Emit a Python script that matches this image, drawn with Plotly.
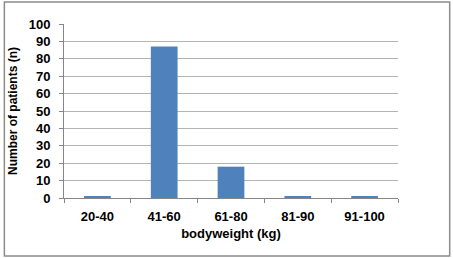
import plotly.graph_objects as go

categories = ["20-40", "41-60", "61-80", "81-90", "91-100"]
patients = [1, 87, 18, 1, 1]
y_ticks = [0, 10, 20, 30, 40, 50, 60, 70, 80, 90, 100]

W, H = 453, 258
L, R, T, B = 62, 55, 24, 60
pw, ph = W - L - R, H - T - B

fig = go.Figure(go.Bar(x=categories, y=patients, marker=dict(color="#4F81BD", line=dict(width=0)), width=0.4))

FF = "Liberation Sans, Arial, sans-serif"
fig.update_layout(
    width=W, height=H,
    margin=dict(l=L, r=R, t=T, b=B),
    paper_bgcolor="white", plot_bgcolor="white",
    showlegend=False,
    font=dict(family=FF, size=12, color="#000000"),
    xaxis=dict(
        showline=True, linecolor="#868686", linewidth=1,
        ticks="outside", ticklen=4, tickcolor="#868686", tickson="boundaries",
        tickfont=dict(family=FF, size=13, weight="bold"),
        ticklabelstandoff=6,
        title=dict(text="bodyweight (kg)", font=dict(family=FF, size=13, weight="bold"), standoff=6),
        showgrid=False,
    ),
    yaxis=dict(
        range=[0, 100], tickvals=y_ticks,
        showline=True, linecolor="#868686", linewidth=1,
        ticks="outside", ticklen=4, tickcolor="#868686",
        showgrid=True, gridcolor="#B3B3B3", gridwidth=1,
        tickfont=dict(family=FF, size=13, weight="bold"),
        ticklabelstandoff=6,
        title=dict(text="Number of patients (n)", font=dict(family=FF, size=12, weight="bold"), standoff=8),
        zeroline=False,
    ),
)

# outer chart border
x0 = (2 - L) / pw
x1 = (450 - L) / pw
y0 = (H - B - 256) / ph
y1 = (H - B - 2) / ph
fig.add_shape(type="rect", xref="paper", yref="paper", x0=x0, x1=x1, y0=y0, y1=y1,
              line=dict(color="#8C8C8C", width=1.5), fillcolor="rgba(0,0,0,0)", layer="below")

fig.write_html("out.html")
